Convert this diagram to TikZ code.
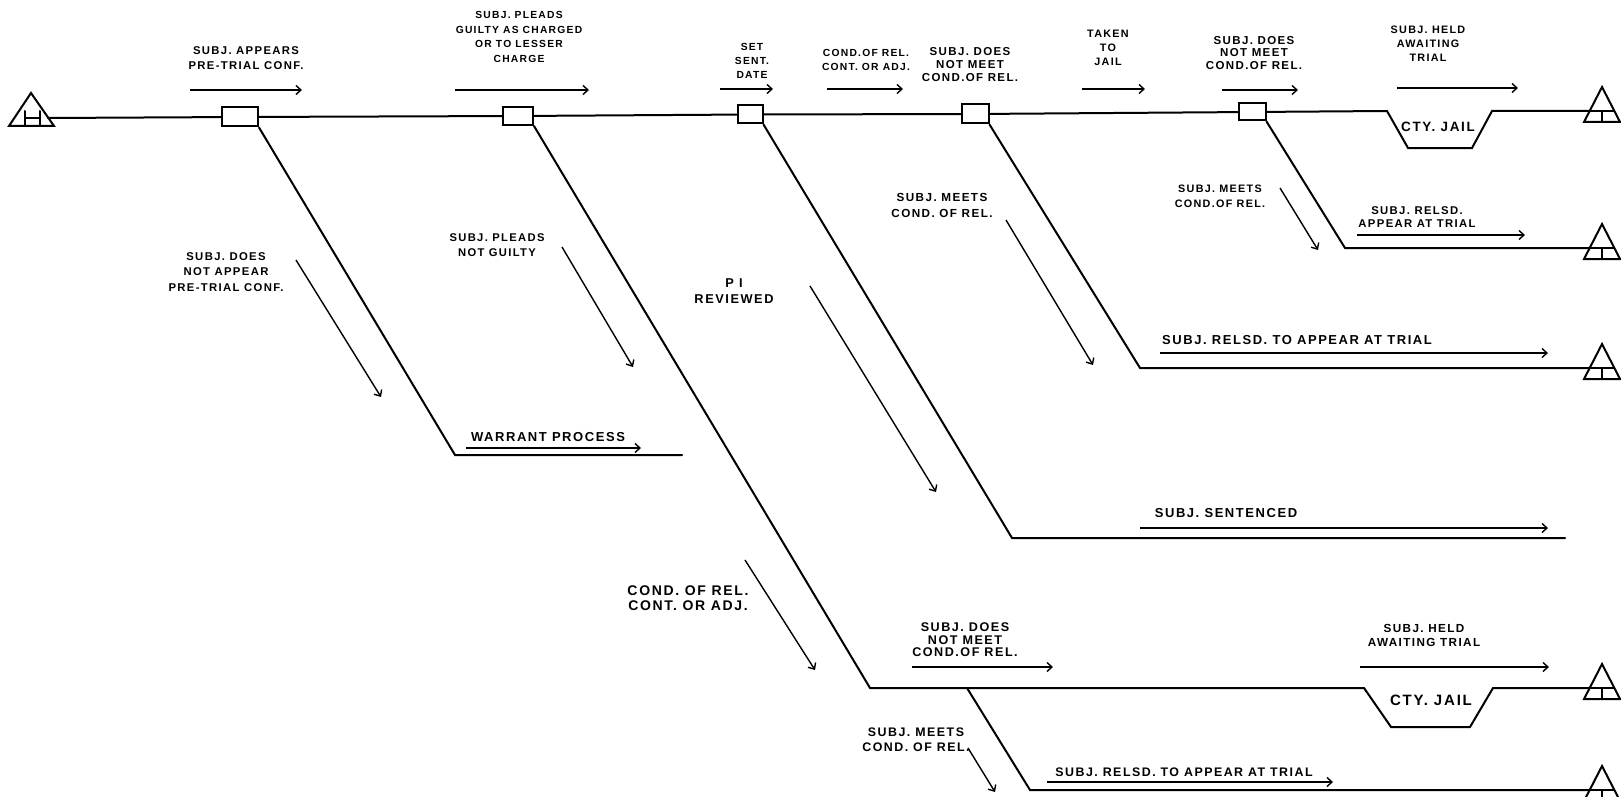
\documentclass[tikz,border=0pt]{standalone}
\usepackage{fontspec}
\setmainfont{Liberation Sans}
\newfontfamily\handfont{Liberation Sans}[LetterSpace=12]
\usetikzlibrary{arrows.meta}
\tikzset{
  flow/.style={line width=2pt, line join=miter, line cap=round},
  evarrow/.style={line width=1.4pt, -{Straight Barb[length=5pt,width=9pt,line width=1.4pt]}},
  boxnode/.style 2 args={draw, line width=2pt, fill=white, minimum width=#1pt, minimum height=#2pt, inner sep=0pt},
  lab/.style 2 args={align=center, inner sep=0pt, font=\handfont\bfseries\fontsize{#1}{#2}\selectfont}
}
\newcommand\termT[3]{%
  \draw[flow] (#1,#2-24) -- (#1-18,#2+11) -- (#1+18,#2+11) -- cycle;
  \draw[flow] (#1-12.3,#2) -- (#1+12.3,#2) (#1,#2) -- (#1,#2+11);
  \coordinate (#3) at (#1-12.3,#2);}
\begin{document}
\begin{tikzpicture}[x=1pt,y=-1pt]
\useasboundingbox (0,0) rectangle (1621,797);
\fill[white] (0,0) rectangle (1621,797);

% start terminal
\draw[flow] (31,93) -- (9,126) -- (54,126) -- cycle;
\draw[flow] (25,111) -- (25,126) (40,111) -- (40,126) (25,118) -- (40,118);
\coordinate (st) at (48,118);

% end terminals
\termT{1602}{111}{e1}
\termT{1602}{248}{e2}
\termT{1602}{368}{e3}
\termT{1602}{688}{e4}
\termT{1602}{790}{e5}

% decision boxes on main line
\node[boxnode={36}{19}] (b1) at (240,117) {};
\node[boxnode={30}{18}] (b2) at (518,116) {};
\node[boxnode={25}{18}] (b3) at (750,114.5) {};
\node[boxnode={27}{19}] (b4) at (975,114) {};
\node[boxnode={27}{17}] (b5) at (1252,112) {};

% main line with county jail dip
\coordinate (j1a) at (1387,111);
\coordinate (j1b) at (1408,148);
\coordinate (j1c) at (1472,148);
\coordinate (j1d) at (1492,111);
\draw[flow] (st) -- (b1) -- (b2) -- (b3) -- (b4) -- (b5) -- (j1a) -- (j1b) -- (j1c) -- (j1d) -- (e1);
\node[lab={13.5}{13}] (jail1) at (1438,127) {CTY. JAIL};

% branch 1: warrant
\coordinate (d1) at (455,455);
\coordinate (d1e) at (682,455);
\draw[flow] (b1.south east) -- (d1) -- (d1e);

% branch 2: pleads not guilty
\coordinate (d2) at (870,688);
\coordinate (j2a) at (1364,688);
\coordinate (j2b) at (1391,727);
\coordinate (j2c) at (1470,727);
\coordinate (j2d) at (1493,688);
\coordinate (f2) at (967,688);
\coordinate (d2b) at (1030,790);
\draw[flow] (b2.south east) -- (d2) -- (j2a) -- (j2b) -- (j2c) -- (j2d) -- (e4);
\draw[flow] (f2) -- (d2b) -- (e5);
\node[lab={15}{13}] (jail2) at (1431,700) {CTY. JAIL};

% branch 3: sentenced
\coordinate (d3) at (1012,538);
\coordinate (d3e) at (1565,538);
\draw[flow] (b3.south east) -- (d3) -- (d3e);

% branch 4
\coordinate (d4) at (1140,368);
\draw[flow] (b4.south east) -- (d4) -- (e3);

% branch 5
\coordinate (d5) at (1345,248);
\draw[flow] (b5.south east) -- (d5) -- (e2);

% ---- top labels and arrows
\node[lab={11.3}{15}] (t1) at (246,58) {SUBJ. APPEARS\\PRE-TRIAL CONF.};
\coordinate (a1s) at (190,90); \coordinate (a1e) at (302,90);
\draw[evarrow] (a1s) -- (a1e);

\node[lab={10.3}{14.5}] (t2) at (519,37) {SUBJ. PLEADS\\GUILTY AS CHARGED\\OR TO LESSER\\CHARGE};
\coordinate (a2s) at (455,90); \coordinate (a2e) at (589,90);
\draw[evarrow] (a2s) -- (a2e);

\node[lab={10.3}{14}] (t3) at (752,61) {SET\\SENT.\\DATE};
\coordinate (a3s) at (720,89); \coordinate (a3e) at (773,89);
\draw[evarrow] (a3s) -- (a3e);

\node[lab={10.3}{14}] (t4) at (866,60) {COND.OF REL.\\CONT. OR ADJ.};
\coordinate (a4s) at (827,89); \coordinate (a4e) at (903,89);
\draw[evarrow] (a4s) -- (a4e);

\node[lab={11.5}{13}] (t5) at (970,65) {SUBJ. DOES\\NOT MEET\\COND.OF REL.};

\node[lab={10.8}{14}] (t6) at (1108,48) {TAKEN\\TO\\JAIL};
\coordinate (a6s) at (1082,89); \coordinate (a6e) at (1145,89);
\draw[evarrow] (a6s) -- (a6e);

\node[lab={11.5}{12.5}] (t7) at (1254,53) {SUBJ. DOES\\NOT MEET\\COND.OF REL.};
\coordinate (a7s) at (1222,90); \coordinate (a7e) at (1298,90);
\draw[evarrow] (a7s) -- (a7e);

\node[lab={10.8}{14}] (t8) at (1428,44) {SUBJ. HELD\\AWAITING\\TRIAL};
\coordinate (a8s) at (1397,88); \coordinate (a8e) at (1518,88);
\draw[evarrow] (a8s) -- (a8e);

% ---- right upper labels
\node[lab={10.8}{15}] (t9) at (1220,196) {SUBJ. MEETS\\COND.OF REL.};
\coordinate (a9s) at (1280,188); \coordinate (a9e) at (1318,250);
\draw[evarrow] (a9s) -- (a9e);

\node[lab={11.3}{13.5}] (t10) at (1417,217) {SUBJ. RELSD.\\APPEAR AT TRIAL};
\coordinate (a10s) at (1357,235); \coordinate (a10e) at (1525,235);
\draw[evarrow] (a10s) -- (a10e);

\node[lab={11.7}{16}] (t11) at (942,205) {SUBJ. MEETS\\COND. OF REL.};
\coordinate (a11s) at (1006,220); \coordinate (a11e) at (1093,365);
\draw[evarrow] (a11s) -- (a11e);

\node[lab={13}{13}] (t12) at (1297,340) {SUBJ. RELSD. TO APPEAR AT TRIAL};
\coordinate (a12s) at (1160,353); \coordinate (a12e) at (1548,353);
\draw[evarrow] (a12s) -- (a12e);

% ---- middle labels
\node[lab={11.3}{15.5}] (t13) at (226,272) {SUBJ. DOES\\NOT APPEAR\\PRE-TRIAL CONF.};
\coordinate (a13s) at (296,260); \coordinate (a13e) at (381,397);
\draw[evarrow] (a13s) -- (a13e);

\node[lab={11.2}{15}] (t14) at (497,245) {SUBJ. PLEADS\\NOT GUILTY};
\coordinate (a14s) at (562,247); \coordinate (a14e) at (633,367);
\draw[evarrow] (a14s) -- (a14e);

\node[lab={12.8}{16}] (t15) at (734,291) {P I\\REVIEWED};
\coordinate (a15s) at (810,286); \coordinate (a15e) at (936,492);
\draw[evarrow] (a15s) -- (a15e);

\node[lab={13}{13}] (t16) at (548,437) {WARRANT PROCESS};
\coordinate (a16s) at (466,448); \coordinate (a16e) at (641,448);
\draw[evarrow] (a16s) -- (a16e);

\node[lab={13}{13}] (t17) at (1226,513) {SUBJ. SENTENCED};
\coordinate (a17s) at (1140,528); \coordinate (a17e) at (1548,528);
\draw[evarrow] (a17s) -- (a17e);

% ---- bottom labels
\node[lab={14}{15}] (t18) at (688,598) {COND. OF REL.\\CONT. OR ADJ.};
\coordinate (a18s) at (745,560); \coordinate (a18e) at (815,670);
\draw[evarrow] (a18s) -- (a18e);

\node[lab={12.6}{12.5}] (t19) at (965,640) {SUBJ. DOES\\NOT MEET\\COND.OF REL.};
\coordinate (a19s) at (912,667); \coordinate (a19e) at (1053,667);
\draw[evarrow] (a19s) -- (a19e);

\node[lab={11.7}{14}] (t20) at (1424,635) {SUBJ. HELD\\AWAITING TRIAL};
\coordinate (a20s) at (1360,667); \coordinate (a20e) at (1549,667);
\draw[evarrow] (a20s) -- (a20e);

\node[lab={12.4}{15}] (t21) at (916,740) {SUBJ. MEETS\\COND. OF REL.};
\coordinate (a21s) at (968,748); \coordinate (a21e) at (995,792);
\draw[evarrow] (a21s) -- (a21e);

\node[lab={12.4}{13}] (t22) at (1184,772) {SUBJ. RELSD. TO APPEAR AT TRIAL};
\coordinate (a22s) at (1047,782); \coordinate (a22e) at (1333,782);
\draw[evarrow] (a22s) -- (a22e);
\end{tikzpicture}
\end{document}
